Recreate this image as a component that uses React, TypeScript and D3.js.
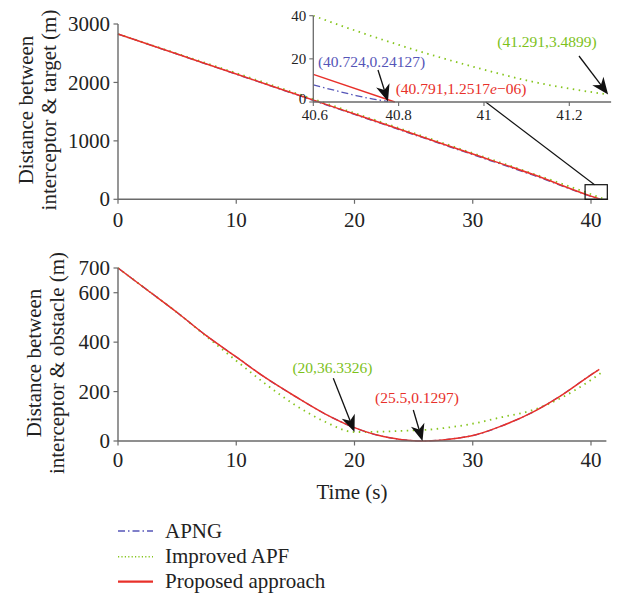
import React from "react";
import * as d3 from "d3";

// ---------- data ----------
const topRedT = [0, 5, 10, 15, 20, 25, 30, 35, 40, 40.6, 40.791];
const topRedV = [2828, 2486, 2144, 1801, 1459, 1117, 774, 432, 54, 12.8, 0];
const topBlueT = [0, 5, 10, 15, 20, 25, 30, 35, 40, 40.6, 40.65, 40.7, 40.75, 40.775];
const topBlueV = [2828, 2484, 2140, 1796, 1452, 1108, 764, 420, 48, 7.9, 5.4, 3.0, 1.0, 0.24];
const topGreenT = [0, 5, 10, 15, 20, 25, 30, 35, 40, 40.6, 40.7, 40.8, 40.9, 41.0, 41.1, 41.2, 41.291];
const topGreenV = [2828, 2494, 2160, 1818, 1476, 1133, 790, 445, 86, 40, 33, 26.5, 20.5, 15, 10, 6.2, 3.49];

const botRedT = [0, 2.5, 5, 7.5, 10, 12.5, 15, 17.5, 20, 21, 22, 23, 24, 25, 25.5, 26, 27, 28, 29, 30, 32.5, 35, 37.5, 40, 40.7];
const botRedV = [700, 610, 520, 425, 340, 255, 180, 110, 54, 37, 23, 13, 5.5, 1.2, 0.13, 0.3, 2.5, 7, 13.5, 22, 62, 115, 185, 268, 290];
const botBlueT = [0, 2.5, 5, 7.5, 10, 12.5, 15, 17.5, 20, 21, 22, 23, 24, 25, 25.5, 26, 27, 28, 29, 30, 32.5, 35, 37.5, 40, 40.7];
const botBlueV = [700, 610, 520, 425, 340, 255, 180, 110, 54, 37, 23, 13, 5.5, 1.2, 0.13, 0.3, 2.5, 7, 13.5, 22, 62, 115, 185, 268, 290];
const botGreenT = [0, 2.5, 5, 7.5, 10, 12.5, 15, 17.5, 20, 21, 22, 23, 24, 25, 26, 28, 30, 32.5, 35, 37.5, 40, 41];
const botGreenV = [700, 610, 520, 422, 325, 230, 145, 78, 36.3, 36.5, 37.5, 39, 41, 43, 45, 55, 70, 97, 124, 175, 247, 281];

const xTicks = [0, 10, 20, 30, 40];
const topYTicks = [0, 1000, 2000, 3000];
const botYTicks = [0, 200, 400, 600, 700];
const insetXTicks = [40.6, 40.8, 41, 41.2];
const insetYTicks = [0, 20, 40];

const seriesNames = ["APNG", "Improved APF", "Proposed approach"];
const seriesColors = ["#5555b8", "#86c51e", "#e8302a"];
const seriesDash = ["7,3,1.5,3", "1.5,4.5", null];

const FONT = "'Liberation Serif', 'Times New Roman', serif";
const AX = "#6a6a6a";
const TXT = "#222";
const BIG = 21;
const SMALL = 15.5;

function toPts(t: number[], v: number[]) {
  return t.map((d, i) => [d, v[i]] as [number, number]);
}

function Arrow({ x1, y1, x2, y2 }: { x1: number; y1: number; x2: number; y2: number }) {
  const ang = Math.atan2(y2 - y1, x2 - x1);
  const L = 17, W = 7, N = 12;
  const ca = Math.cos(ang), sa = Math.sin(ang);
  const bx = x2 - L * ca, by = y2 - L * sa;
  const nx = x2 - N * ca, ny = y2 - N * sa;
  const p = [
    [x2, y2],
    [bx - W * sa, by + W * ca],
    [nx, ny],
    [bx + W * sa, by - W * ca],
  ];
  return (
    <g>
      <line x1={x1} y1={y1} x2={nx} y2={ny} stroke="#111" strokeWidth={1.3} />
      <polygon points={p.map((q) => q.join(",")).join(" ")} fill="#111" />
    </g>
  );
}

export default function App() {
  const xS = d3.scaleLinear().domain([0, 40]).range([118, 591]);
  const yTop = d3.scaleLinear().domain([0, 3000]).range([199.3, 24]);
  const yBot = d3.scaleLinear().domain([0, 700]).range([441, 268]);
  const xIn = d3.scaleLinear().domain([40.6, 41.2]).range([313.3, 569.3]);
  const yIn = d3.scaleLinear().domain([0, 40]).range([102, 15.7]);

  const mk = (xs: any, ys: any) =>
    d3.line<[number, number]>().x((d) => xs(d[0])).y((d) => ys(d[1])).curve(d3.curveMonotoneX);

  const lineTop = mk(xS, yTop);
  const lineBot = mk(xS, yBot);
  const lineIn = mk(xIn, yIn);

  const topSeries = [toPts(topBlueT, topBlueV), toPts(topGreenT, topGreenV), toPts(topRedT, topRedV)];
  const botSeries = [toPts(botBlueT, botBlueV), toPts(botGreenT, botGreenV), toPts(botRedT, botRedV)];
  const inSeries = topSeries.map((s) => s.filter((d) => d[0] >= 40.59));
  const drawOrder = [0, 1, 2];

  const path = (gen: any, pts: any, i: number, key: string) => (
    <path
      key={key}
      d={gen(pts) || ""}
      fill="none"
      stroke={seriesColors[i]}
      strokeWidth={i === 1 ? 1.8 : i === 2 ? 1.5 : 1.3}
      strokeDasharray={seriesDash[i] || undefined}
    />
  );

  const xAxis = (ys: any, endT: number, labelBase: number) => (
    <g>
      <line x1={xS(0)} x2={xS(endT)} y1={ys(0)} y2={ys(0)} stroke={AX} strokeWidth={1.4} />
      {xTicks.map((t) => (
        <g key={t}>
          <line x1={xS(t)} x2={xS(t)} y1={ys(0)} y2={ys(0) + 4.5} stroke={AX} strokeWidth={1.2} />
          <text x={xS(t)} y={labelBase} textAnchor="middle" fontSize={BIG} fill={TXT}>
            {t}
          </text>
        </g>
      ))}
    </g>
  );

  const yAxis = (ys: any, ticks: number[], top: number) => (
    <g>
      <line x1={xS(0)} x2={xS(0)} y1={ys(0)} y2={ys(top)} stroke={AX} strokeWidth={1.4} />
      {ticks.map((v) => (
        <g key={v}>
          <line x1={xS(0) - 4.5} x2={xS(0)} y1={ys(v)} y2={ys(v)} stroke={AX} strokeWidth={1.2} />
          <text x={xS(0) - 8} y={ys(v)} dy="0.34em" textAnchor="end" fontSize={BIG} fill={TXT}>
            {v}
          </text>
        </g>
      ))}
    </g>
  );

  const legendY = [531, 556.7, 581.7];

  return (
    <svg
      width={626}
      height={596}
      style={{ position: "absolute", left: 0, top: 0, background: "#fff" }}
      fontFamily={FONT}
    >
      <rect x={0} y={0} width={626} height={596} fill="#fff" />
      <defs>
        <clipPath id="inclip">
          <rect x={xIn(40.6)} y={yIn(42)} width={xIn(41.3) - xIn(40.6)} height={yIn(0) - yIn(42) + 1} />
        </clipPath>
      </defs>

      {/* ---------- top plot ---------- */}
      {drawOrder.map((i) => path(lineTop, topSeries[i], i, "t" + i))}
      {xAxis(yTop, 41.45, 227)}
      {yAxis(yTop, topYTicks, 3000)}
      <text transform={`translate(33,110) rotate(-90)`} textAnchor="middle" fontSize={BIG} fill={TXT}>
        Distance between
      </text>
      <text transform={`translate(56,110) rotate(-90)`} textAnchor="middle" fontSize={BIG} fill={TXT}>
        interceptor &amp; target (m)
      </text>

      {/* zoom box */}
      <rect
        x={xS(39.5)}
        y={yTop(250)}
        width={xS(41.38) - xS(39.5)}
        height={yTop(0) - yTop(250)}
        fill="none"
        stroke="#111"
        strokeWidth={1.2}
      />
      <line x1={xIn(41.004)} y1={yIn(0)} x2={xS(40.3)} y2={yTop(250)} stroke="#111" strokeWidth={1.1} />

      {/* inset */}
      <g clipPath="url(#inclip)">{drawOrder.map((i) => path(lineIn, inSeries[i], i, "i" + i))}</g>
      <line x1={xIn(40.6)} x2={xIn(41.298)} y1={yIn(0)} y2={yIn(0)} stroke={AX} strokeWidth={1.3} />
      <line x1={xIn(40.6)} x2={xIn(40.6)} y1={yIn(0)} y2={yIn(40)} stroke={AX} strokeWidth={1.3} />
      {insetXTicks.map((t) => (
        <g key={t}>
          <line x1={xIn(t)} x2={xIn(t)} y1={yIn(0)} y2={yIn(0) + 4} stroke={AX} strokeWidth={1.1} />
          <text x={xIn(t) + (t === 40.6 ? 1.5 : 0)} y={119.5} textAnchor="middle" fontSize={15} fill={TXT}>
            {t}
          </text>
        </g>
      ))}
      {insetYTicks.map((v) => (
        <g key={v}>
          <line x1={xIn(40.6) - 4} x2={xIn(40.6)} y1={yIn(v)} y2={yIn(v)} stroke={AX} strokeWidth={1.1} />
          <text x={xIn(40.6) - 7} y={yIn(v)} dy={v === 0 ? "0.15em" : "0.34em"} textAnchor="end" fontSize={15} fill={TXT}>
            {v}
          </text>
        </g>
      ))}

      {/* inset annotations */}
      <text x={371.5} y={66.5} textAnchor="middle" fontSize={SMALL} fill="#5555b8">
        (40.724,0.24127)
      </text>
      <Arrow x1={378} y1={70} x2={xIn(40.775)} y2={yIn(0.24)} />
      <text x={461} y={94} textAnchor="middle" fontSize={SMALL} fill="#e8302a">
        (40.791,1.2517<tspan fontStyle="italic">e</tspan>−06)
      </text>
      <text x={547} y={47} textAnchor="middle" fontSize={SMALL} fill="#7cc11a">
        (41.291,3.4899)
      </text>
      <Arrow x1={579} y1={56} x2={xIn(41.291)} y2={yIn(3.4899)} />

      {/* ---------- bottom plot ---------- */}
      {drawOrder.map((i) => path(lineBot, botSeries[i], i, "b" + i))}
      {xAxis(yBot, 41.3, 467)}
      {yAxis(yBot, botYTicks, 700)}
      <text transform={`translate(41,363) rotate(-90)`} textAnchor="middle" fontSize={BIG} fill={TXT}>
        Distance between
      </text>
      <text transform={`translate(64,363) rotate(-90)`} textAnchor="middle" fontSize={BIG} fill={TXT}>
        interceptor &amp; obstacle (m)
      </text>
      <text x={352} y={499} textAnchor="middle" fontSize={BIG} fill={TXT}>
        Time (s)
      </text>

      <text x={332.5} y={373} textAnchor="middle" fontSize={SMALL} fill="#7cc11a">
        (20,36.3326)
      </text>
      <Arrow x1={333.3} y1={378.3} x2={xS(20)} y2={yBot(36.3326)} />
      <text x={417} y={403} textAnchor="middle" fontSize={SMALL} fill="#e8302a">
        (25.5,0.1297)
      </text>
      <Arrow x1={413.3} y1={410} x2={xS(25.75)} y2={yBot(0.1297)} />

      {/* ---------- legend ---------- */}
      {seriesNames.map((n, i) => (
        <g key={n}>
          <line
            x1={118}
            x2={153}
            y1={legendY[i]}
            y2={legendY[i]}
            stroke={seriesColors[i]}
            strokeWidth={i === 2 ? 2.2 : 1.5}
            strokeDasharray={i === 1 ? "1.2,2.2" : seriesDash[i] || undefined}
          />
          <text x={165} y={legendY[i] + 6.5} fontSize={BIG} fill={TXT}>
            {n}
          </text>
        </g>
      ))}
    </svg>
  );
}
